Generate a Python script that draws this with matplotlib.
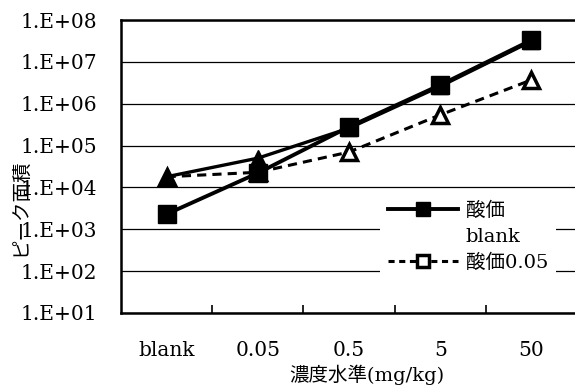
import matplotlib
matplotlib.use("Agg")
import matplotlib.pyplot as plt
from matplotlib.lines import Line2D

plt.rcParams["font.family"] = ["DejaVu Serif", "Noto Sans CJK JP"]

categories = ["blank", "0.05", "0.5", "5", "50"]
acid = [2.3e3, 2.2e4, 2.8e5, 2.8e6, 3.3e7]
blank = [1.8e4, 5.0e4, 2.6e5, 2.6e6, 3.1e7]
acid_005 = [1.8e4, 2.3e4, 7.0e4, 5.4e5, 3.7e6]
ytick_vals = [1e1, 1e2, 1e3, 1e4, 1e5, 1e6, 1e7, 1e8]
ytick_labels = ["1.E+01", "1.E+02", "1.E+03", "1.E+04", "1.E+05", "1.E+06", "1.E+07", "1.E+08"]

fig = plt.figure(figsize=(5.75, 3.88), dpi=100)
ax = fig.add_axes([121 / 575, 75 / 388, 456 / 575, 293 / 388])

x = range(len(categories))
ax.plot(x, acid_005, color="black", lw=2.2, ls=(0, (3, 2)), marker="^", ms=11,
        mfc="white", mec="black", mew=2.5, zorder=3)
ax.plot(x, blank, color="black", lw=2.4, marker="^", ms=12, mfc="black",
        mec="black", zorder=4)
ax.plot(x, acid, color="black", lw=2.8, marker="s", ms=13.5, mfc="black",
        mec="black", zorder=5)

ax.set_yscale("log")
ax.set_ylim(1e1, 1e8)
ax.set_yticks(ytick_vals, ytick_labels)
ax.minorticks_off()
ax.set_xlim(-0.5, len(categories) - 0.5)
ax.set_xticks(list(x), categories)
ax.set_xticks([i + 0.5 for i in range(len(categories) - 1)], minor=True)

ax.tick_params(axis="y", length=0, pad=17, labelsize=14.5)
ax.tick_params(axis="x", which="major", length=0, pad=20, labelsize=14.5)
ax.tick_params(axis="x", which="minor", direction="in", length=6, width=1.2)

ax.grid(axis="y", color="black", lw=0.9)
for s in ["left", "top", "bottom"]:
    ax.spines[s].set_linewidth(1.8)
ax.spines["right"].set_visible(False)

ax.set_xlabel("濃度水準(mg/kg)", fontsize=14)
ax.xaxis.set_label_coords(0.54, -0.175)
ax.set_ylabel("ピーク面積", fontsize=14, family=["Noto Sans CJK JP"])
ax.yaxis.set_label_coords(-0.2, 0.36)

handles = [
    Line2D([], [], color="black", lw=2.8, marker="s", ms=10, mfc="black"),
    Line2D([], [], color="none"),
    Line2D([], [], color="black", lw=2.2, ls=(0, (2, 1.5)), marker="s", ms=9,
           mfc="white", mec="black", mew=2.5),
]
leg = fig.legend(handles, ["酸価", "blank", "酸価0.05"], loc="upper left",
                 bbox_to_anchor=(380 / 575, 1 - 194 / 388),
                 frameon=True, fontsize=14, handlelength=3.6, labelspacing=0.4,
                 handletextpad=0.4, borderaxespad=0)
leg.get_frame().set_facecolor("white")
leg.get_frame().set_edgecolor("none")
leg.get_frame().set_alpha(1)

fig.savefig("out.png", dpi=100)
